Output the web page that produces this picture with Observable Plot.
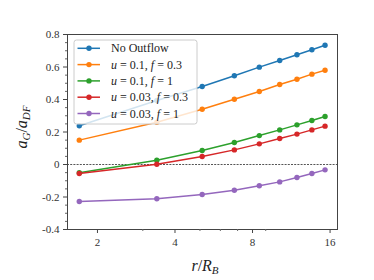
<!DOCTYPE html>
<html><head><meta charset="utf-8">
<script src="https://cdn.jsdelivr.net/npm/d3@7"></script>
<script src="https://cdn.jsdelivr.net/npm/@observablehq/plot@0.6"></script>
<style>body{margin:0;background:#fff}#chart{position:relative;width:374px;height:280px}</style>
</head><body><div id="chart"></div>
<script>
const r = [1.7, 3.4, 5.1, 6.8, 8.5, 10.2, 11.9, 13.6, 15.3];
const noOutflow = [0.238, 0.394, 0.48, 0.546, 0.599, 0.64, 0.675, 0.706, 0.734];
const u01f03 = [0.15, 0.26, 0.34, 0.402, 0.449, 0.492, 0.525, 0.556, 0.58];
const u01f1 = [-0.051, 0.026, 0.086, 0.135, 0.178, 0.213, 0.244, 0.271, 0.295];
const u003f03 = [-0.055, 0.002, 0.049, 0.09, 0.127, 0.16, 0.187, 0.213, 0.236];
const u003f1 = [-0.228, -0.211, -0.185, -0.158, -0.131, -0.107, -0.08, -0.055, -0.033];
const seriesNames = ["No Outflow", "u = 0.1, f = 0.3", "u = 0.1, f = 1", "u = 0.03, f = 0.3", "u = 0.03, f = 1"];
const seriesValues = [noOutflow, u01f03, u01f1, u003f03, u003f1];
const colors = ["#1f77b4", "#ff7f0e", "#2ca02c", "#d62728", "#9467bd"];
const xTicks = [2, 4, 8, 16];
const xMinor = [3, 5, 6, 7, 9];
const yTicks = [-0.4, -0.2, 0, 0.2, 0.4, 0.6, 0.8];
const yMinor = d3.range(-8, 17).filter(i => i % 4 !== 0).map(i => i * 0.05);

const data = [];
seriesNames.forEach((s, i) => seriesValues[i].forEach((v, j) => data.push({series: s, r: r[j], v})));

const FONT = "'Liberation Serif', 'DejaVu Serif', serif";
const fmtY = d => d === 0 ? "0" : d.toFixed(1);

const plot = Plot.plot({
  width: 374, height: 280,
  marginLeft: 67, marginRight: 37, marginTop: 34, marginBottom: 51,
  style: {fontFamily: FONT, fontSize: "11px", color: "#333", background: "#fff"},
  x: {type: "log", base: 2, domain: [1.53, 17.1]},
  y: {domain: [-0.4, 0.8]},
  color: {domain: seriesNames, range: colors},
  marks: [
    Plot.ruleY([0], {stroke: "#555", strokeDasharray: "2,1.2", strokeWidth: 1}),
    Plot.line(data, {x: "r", y: "v", stroke: "series", strokeWidth: 1.5}),
    Plot.dot(data, {x: "r", y: "v", fill: "series", r: 2.7}),
    Plot.frame({stroke: "#444", strokeWidth: 1}),
    Plot.axisX({ticks: xTicks, tickSize: 4, tickPadding: 5, tickFormat: d => String(d), label: null, stroke: "#444"}),
    Plot.axisX({ticks: xMinor, tickSize: 2, tickFormat: () => "", label: null, stroke: "#666"}),
    Plot.axisY({ticks: yTicks, tickSize: 4, tickPadding: 4, tickFormat: fmtY, label: null, stroke: "#444"}),
    Plot.axisY({ticks: yMinor, tickSize: 2, tickFormat: () => "", label: null, stroke: "#666"})
  ]
});
document.getElementById("chart").appendChild(plot);

const svg = d3.select(plot);
function mathText(sel, str) {
  const parts = str.split(/\b([uf])\b/);
  parts.forEach((p, i) => {
    if (!p) return;
    sel.append("tspan").attr("font-style", i % 2 ? "italic" : "normal").text(p);
  });
}

// Legend
const lg = svg.append("g").attr("text-anchor", "start");
const lx = 74, ly = 40, lw = 123, lh = 84, rowH = 16.3;
lg.append("rect").attr("x", lx).attr("y", ly).attr("width", lw).attr("height", lh)
  .attr("rx", 2.5).attr("fill", "#fff").attr("fill-opacity", 0.8).attr("stroke", "#ccc").attr("stroke-width", 1);
seriesNames.forEach((s, i) => {
  const y = 48.3 + i * rowH;
  lg.append("line").attr("x1", 77.5).attr("x2", 100).attr("y1", y).attr("y2", y)
    .attr("stroke", colors[i]).attr("stroke-width", 1.5);
  lg.append("circle").attr("cx", 89).attr("cy", y).attr("r", 2.7).attr("fill", colors[i]);
  const t = lg.append("text").attr("x", 111).attr("y", y + 4).attr("text-anchor", "start")
    .attr("font-family", FONT).attr("font-size", 12).attr("fill", "#222");
  mathText(t, s);
});

// x label r/R_B
const xl = svg.append("text").attr("x", 205).attr("y", 271).attr("text-anchor", "middle")
  .attr("font-family", FONT).attr("font-size", 16).attr("fill", "#222");
xl.append("tspan").attr("font-style", "italic").text("r");
xl.append("tspan").text("/");
xl.append("tspan").attr("font-style", "italic").text("R");
xl.append("tspan").attr("font-style", "italic").attr("font-size", 11).attr("dy", 3).text("B");

// y label a_G/a_DF
const yl = svg.append("text").attr("transform", "translate(27,127) rotate(-90)").attr("text-anchor", "middle")
  .attr("font-family", FONT).attr("font-size", 16).attr("fill", "#222");
yl.append("tspan").attr("font-style", "italic").text("a");
yl.append("tspan").attr("font-style", "italic").attr("font-size", 11).attr("dy", 3).text("G");
yl.append("tspan").attr("dy", -3).text("/");
yl.append("tspan").attr("font-style", "italic").text("a");
yl.append("tspan").attr("font-style", "italic").attr("font-size", 11).attr("dy", 3).text("DF");
</script></body></html>
